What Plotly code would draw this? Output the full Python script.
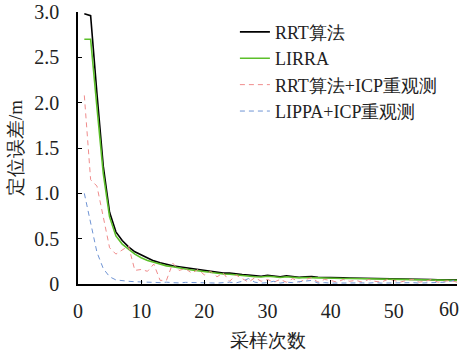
import plotly.graph_objects as go

x = list(range(1, 61))

rrt = [2.98, 2.96, 2.10, 1.30, 0.79, 0.575, 0.48, 0.41, 0.355, 0.32,
       0.285, 0.255, 0.235, 0.215, 0.20, 0.19, 0.18, 0.17, 0.155, 0.15,
       0.135, 0.125, 0.12, 0.12, 0.11, 0.105, 0.10, 0.09, 0.085, 0.095,
       0.09, 0.08, 0.09, 0.085, 0.075, 0.08, 0.082, 0.075, 0.075, 0.07,
       0.07, 0.068, 0.066, 0.064, 0.062, 0.06, 0.058, 0.058, 0.056, 0.055,
       0.055, 0.054, 0.053, 0.052, 0.05, 0.048, 0.047, 0.048, 0.052, 0.045]

lirra = [2.70, 2.70, 1.95, 1.22, 0.74, 0.53, 0.44, 0.38, 0.33, 0.29,
         0.26, 0.24, 0.22, 0.20, 0.19, 0.175, 0.165, 0.155, 0.145, 0.14,
         0.125, 0.115, 0.11, 0.108, 0.10, 0.095, 0.09, 0.08, 0.078, 0.085,
         0.08, 0.072, 0.08, 0.075, 0.068, 0.072, 0.074, 0.068, 0.067, 0.063,
         0.063, 0.061, 0.06, 0.058, 0.056, 0.055, 0.053, 0.053, 0.051, 0.05,
         0.05, 0.049, 0.048, 0.047, 0.046, 0.044, 0.043, 0.044, 0.047, 0.04]

rrt_icp = [2.08, 1.15, 1.08, 0.75, 0.40, 0.33, 0.38, 0.42, 0.15, 0.16,
           0.14, 0.22, 0.04, 0.04, 0.23, 0.15, 0.17, 0.12, 0.16, 0.10,
           0.14, 0.08, 0.12, 0.03, 0.10, 0.06, 0.02, 0.07, 0.03, 0.05,
           0.02, 0.05, 0.02, 0.06, 0.02, 0.05, 0.07, 0.02, 0.05, 0.04,
           0.02, 0.05, 0.03, 0.04, 0.02, 0.05, 0.03, 0.02, 0.05, 0.04,
           0.02, 0.04, 0.05, 0.02, 0.03, 0.05, 0.02, 0.03, 0.04, 0.02]

lippa_icp = [1.00, 0.68, 0.35, 0.17, 0.08, 0.045, 0.035, 0.03, 0.025, 0.02,
             0.02, 0.018, 0.015, 0.02, 0.015, 0.012, 0.018, 0.015, 0.01, 0.015,
             0.012, 0.01, 0.015, 0.02, 0.012, 0.03, 0.06, 0.02, 0.01, 0.015,
             0.03, 0.01, 0.02, 0.015, 0.025, 0.03, 0.04, 0.01, 0.015, 0.01,
             0.012, 0.01, 0.015, 0.01, 0.012, 0.01, 0.015, 0.01, 0.012, 0.01,
             0.012, 0.01, 0.015, 0.01, 0.012, 0.01, 0.015, 0.02, 0.03, 0.05]

names = ["RRT算法", "LIRRA", "RRT算法+ICP重观测", "LIPPA+ICP重观测"]
x_ticks = [0, 10, 20, 30, 40, 50, 60]
x_ticktext = ["0", "10", "20", "30", "40", "50", ""]   # last label drawn below, nudged left
last_x_label = "60"
y_ticks = [0, 0.5, 1.0, 1.5, 2.0, 2.5, 3.0]
y_ticktext = ["0", "0.5", "1.0", "1.5", "2.0", "2.5", "3.0"]
x_title = "采样次数"
y_title = "定位误差/m"

serif = "Liberation Serif"

fig = go.Figure()
fig.add_trace(go.Scatter(x=x, y=rrt, name=names[0], mode="lines",
                         line=dict(color="black", width=1.6)))
fig.add_trace(go.Scatter(x=x, y=lirra, name=names[1], mode="lines",
                         line=dict(color="#5cbf2a", width=1.6)))
fig.add_trace(go.Scatter(x=x, y=rrt_icp, name=names[2], mode="lines",
                         line=dict(color="#f08c8c", width=1, dash="5px,4px")))
fig.add_trace(go.Scatter(x=x, y=lippa_icp, name=names[3], mode="lines",
                         line=dict(color="#6f94d4", width=1, dash="5px,4px")))

fig.update_layout(
    width=466, height=351,
    margin=dict(l=78, r=9, t=12, b=67),
    paper_bgcolor="white", plot_bgcolor="white",
    font=dict(family=serif, size=19, color="#222"),
    showlegend=True,
    legend=dict(x=0.414, y=0.994, xanchor="left", yanchor="top",
                bgcolor="rgba(0,0,0,0)", font=dict(size=18, family=serif),
                tracegroupgap=0, itemwidth=30),
    xaxis=dict(range=[0, 60], tickvals=x_ticks, ticktext=x_ticktext,
               ticks="inside", ticklen=4, tickcolor="black",
               showline=True, linecolor="black", linewidth=1.5,
               showgrid=False, zeroline=False, automargin=False,
               ticklabelstandoff=8,
               tickfont=dict(size=20, family=serif),
               title=dict(text=x_title, standoff=20,
                          font=dict(size=19, family=serif))),
    yaxis=dict(range=[0, 3.0], tickvals=y_ticks, ticktext=y_ticktext,
               ticks="inside", ticklen=4, tickcolor="black",
               showline=True, linecolor="black", linewidth=1.5,
               showgrid=False, zeroline=False, automargin=False,
               ticklabelstandoff=13,
               tickfont=dict(size=20, family=serif)),
    annotations=[
        dict(text=y_title, xref="paper", yref="paper",
             x=-(78 - 15) / 379, y=0.5, xanchor="center",
             yanchor="middle", textangle=-90, showarrow=False,
             font=dict(size=19, family=serif, color="#222")),
        dict(text=last_x_label, xref="x", yref="paper", x=60, y=0,
             xanchor="center", yanchor="middle", xshift=-8, yshift=-25,
             showarrow=False,
             font=dict(size=20, family=serif, color="#222")),
    ],
)

fig.write_html("out.html",
               config={"displayModeBar": False},
               post_script="document.body.style.margin='0';")
